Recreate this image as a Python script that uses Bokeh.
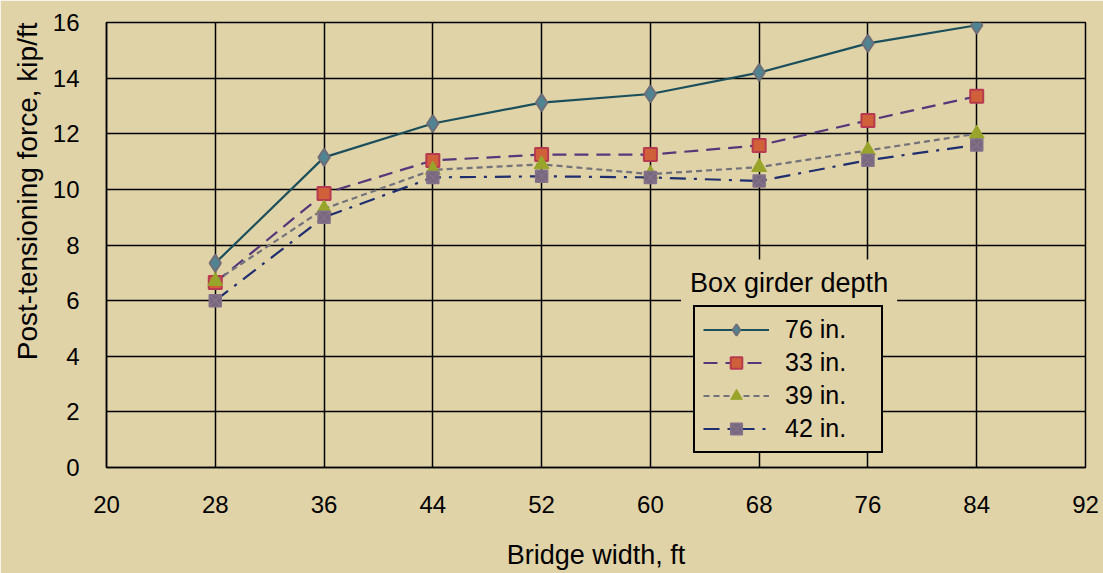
from bokeh.plotting import figure
from bokeh.models import FixedTicker, Legend, LegendItem, Label, Range1d, Title
from bokeh.embed import file_html
from bokeh.resources import INLINE

widths = [28, 36, 44, 52, 60, 68, 76, 84]
depth_76 = [7.35, 11.15, 12.37, 13.12, 13.43, 14.2, 15.25, 15.9]
depth_33 = [6.65, 9.85, 11.04, 11.25, 11.25, 11.58, 12.48, 13.35]
depth_39 = [6.7, 9.3, 10.7, 10.9, 10.55, 10.8, 11.4, 12.0]
depth_42 = [6.0, 9.0, 10.43, 10.47, 10.43, 10.3, 11.05, 11.6]
x_ticks = [20, 28, 36, 44, 52, 60, 68, 76, 84, 92]
y_ticks = [0, 2, 4, 6, 8, 10, 12, 14, 16]
labels = ["76 in.", "33 in.", "39 in.", "42 in."]

BG = "#E0D3A8"
FONT = "Liberation Sans"

p = figure(width=1103, height=573, output_backend="svg", toolbar_location=None,
           x_range=Range1d(20, 92), y_range=Range1d(0, 16),
           min_border_left=106, min_border_right=18, min_border_top=22, min_border_bottom=106)
p.background_fill_color = BG
p.border_fill_color = BG
p.outline_line_color = "black"
p.outline_line_width = 1.5

for ax, ticks in ((p.xaxis[0], x_ticks), (p.yaxis[0], y_ticks)):
    ax.ticker = FixedTicker(ticks=ticks)
    ax.major_tick_in = 0
    ax.major_tick_out = 0
    ax.minor_tick_in = 0
    ax.minor_tick_out = 0
    ax.axis_line_color = "black"
    ax.axis_line_width = 1.5
    ax.major_label_text_font = FONT
    ax.major_label_text_font_size = "24px"
    ax.major_label_text_color = "black"

p.xaxis.axis_label = "Bridge width, ft"
p.xaxis.axis_label_text_font = FONT
p.xaxis.axis_label_text_font_size = "27px"
p.xaxis.axis_label_text_font_style = "normal"
p.xaxis.axis_label_text_color = "black"
p.xaxis.major_label_standoff = 28
p.xaxis.axis_label_standoff = 24
p.yaxis.major_label_standoff = 27

for g in (p.xgrid[0], p.ygrid[0]):
    g.grid_line_color = "black"
    g.grid_line_width = 1.5
p.xgrid.ticker = FixedTicker(ticks=x_ticks)
p.ygrid.ticker = FixedTicker(ticks=y_ticks)

l1 = p.line(widths, depth_76, line_color="#1B4F5C", line_width=2.2)
m1 = p.scatter(widths, depth_76, marker="diamond", size=17, fill_color="#4F8592",
               line_color="#6E6E78", line_width=2)

l2 = p.line(widths, depth_33, line_color="#56387A", line_width=2.2, line_dash="14 8")
m2 = p.scatter(widths, depth_33, marker="square", size=13, fill_color="#D0603A",
               line_color="#B83A50", line_width=2)

l3 = p.line(widths, depth_39, line_color="#72727A", line_width=2.2, line_dash="6 4")
m3 = p.scatter(widths, depth_39, marker="triangle", size=15, fill_color="#98A52A",
               line_color="#98A52A", line_width=1)

l4 = p.line(widths, depth_42, line_color="#1F2E6E", line_width=2.2, line_dash="16 8 3 8")
m4 = p.scatter(widths, depth_42, marker="square_x", size=12, fill_color="#76687E",
               line_color="#847088", line_width=1.5)

legend = Legend(items=[
    LegendItem(label=labels[0], renderers=[l1, m1]),
    LegendItem(label=labels[1], renderers=[l2, m2]),
    LegendItem(label=labels[2], renderers=[l3, m3]),
    LegendItem(label=labels[3], renderers=[l4, m4]),
], location=(587, 14))
legend.background_fill_color = BG
legend.background_fill_alpha = 1.0
legend.border_line_color = "black"
legend.border_line_alpha = 1.0
legend.border_line_width = 2.5
legend.label_text_font = FONT
legend.label_text_font_size = "25px"
legend.label_text_color = "black"
legend.glyph_width = 66
legend.glyph_height = 29
legend.label_height = 29
legend.label_width = 88
legend.label_standoff = 16
legend.spacing = 4
legend.padding = 8
legend.margin = 0
p.add_layout(legend, "center")

title = Label(x=70.2, y=6.62, text="Box girder depth", text_align="center",
              text_baseline="middle", text_font=FONT, text_font_size="27px",
              text_color="black", background_fill_color=BG, background_fill_alpha=1.0,
              padding=9)
p.add_layout(title)

ylabel = Title(text="Post-tensioning force, kip/ft", align="right", offset=0,
               text_font=FONT, text_font_size="28px", text_font_style="normal",
               text_color="black", standoff=14)
p.add_layout(ylabel, "left")

open("out.html", "w").write(file_html(p, INLINE))
